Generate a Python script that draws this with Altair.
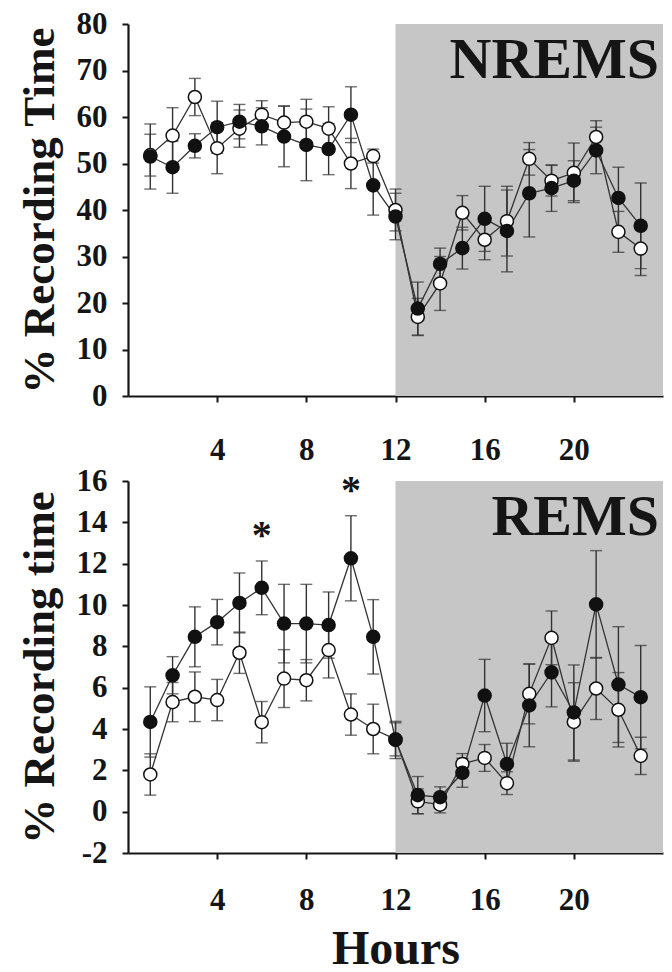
import altair as alt
import pandas as pd

hours = list(range(1, 24))

nrem_filled = [51.5, 49.2, 53.8, 57.8, 59.0, 58.0, 55.8, 54.0, 53.1, 60.5, 45.3, 38.6,
               18.8, 28.4, 31.8, 38.1, 35.5, 43.6, 44.7, 46.3, 52.8, 42.6, 36.6]
nrem_filled_err = [7.0, 5.6, 2.6, 5.6, 3.7, 4.0, 6.5, 7.7, 5.5, 6.0, 6.4, 5.0,
                   5.7, 3.4, 4.5, 7.0, 8.8, 9.4, 5.0, 4.3, 5.0, 6.6, 9.2]
nrem_open = [51.8, 56.0, 64.3, 53.3, 57.5, 60.5, 58.8, 59.0, 57.5, 50.0, 51.6, 40.0,
             17.0, 24.2, 39.4, 33.6, 37.6, 51.0, 46.3, 48.0, 55.7, 35.3, 31.7]
nrem_open_err = [4.5, 6.0, 4.0, 5.5, 4.0, 3.0, 3.6, 4.8, 4.7, 5.4, 1.5, 4.5,
                 4.0, 5.8, 3.7, 4.3, 7.5, 3.5, 3.3, 6.4, 3.5, 4.4, 5.8]

rem_filled = [4.34, 6.6, 8.46, 9.17, 10.1, 10.83, 9.1, 9.1, 9.03, 12.26, 8.46, 3.47,
              0.8, 0.7, 1.88, 5.62, 2.31, 5.14, 6.74, 4.8, 10.03, 6.15, 5.54]
rem_filled_err = [1.7, 0.9, 1.45, 1.1, 1.45, 1.3, 1.9, 1.9, 1.6, 2.06, 1.8, 0.9,
                  0.9, 0.5, 0.7, 1.75, 1.0, 2.0, 1.67, 2.3, 2.6, 2.8, 2.5]
rem_open = [1.8, 5.3, 5.56, 5.4, 7.69, 4.33, 6.44, 6.36, 7.82, 4.7, 4.0, 3.5,
            0.5, 0.34, 2.31, 2.6, 1.38, 5.7, 8.41, 4.34, 5.96, 4.93, 2.7]
rem_open_err = [1.0, 0.95, 1.2, 1.0, 1.0, 1.0, 1.4, 1.0, 1.35, 1.0, 1.2, 0.8,
                0.6, 0.4, 0.5, 0.65, 0.55, 1.45, 1.3, 1.9, 1.5, 1.8, 0.9]

dark_start = [12]
dark_end = [24]

ast_hours = [6, 10]
ast_values = [13.7, 15.85]

FONT = "'Liberation Serif', 'Times New Roman', Times, serif"
INK = "#151515"


def long_df(filled, filled_err, opn, opn_err):
    a = pd.DataFrame({"hour": hours, "value": opn, "err": opn_err, "group": "open"})
    b = pd.DataFrame({"hour": hours, "value": filled, "err": filled_err, "group": "filled"})
    return pd.concat([a, b], ignore_index=True)


def panel(df, ymin, ymax, ystep, ytitle, label, xlabpad, show_xtitle, ast=None):
    xscale = alt.Scale(domain=[0, 24], nice=False)
    yscale = alt.Scale(domain=[ymin, ymax], nice=False)
    xaxis_kw = dict(values=[4, 8, 12, 16, 20], tickSize=6, labelPadding=xlabpad, grid=False)
    if show_xtitle:
        xaxis_kw.update(title="Hours", titlePadding=10, titleFontSize=48)
    else:
        xaxis_kw.update(title=None)
    x = alt.X("hour:Q", scale=xscale, axis=alt.Axis(**xaxis_kw))
    yaxis = alt.Axis(values=list(range(ymin, ymax + 1, ystep)), title=ytitle, tickSize=6,
                     labelPadding=15, titlePadding=14, grid=False,
                     labelExpr="'' + datum.value")

    band = alt.Chart(pd.DataFrame({"start": dark_start, "end": dark_end})).mark_rect(
        color="#c6c6c6").encode(
        x=alt.X("start:Q", scale=xscale, axis=alt.Axis(**xaxis_kw)),
        x2="end:Q",
        y=alt.Y(datum=ymin, scale=yscale, axis=yaxis),
        y2=alt.Y2(datum=ymax),
    )

    base = alt.Chart(df).transform_calculate(
        lo="datum.value - datum.err", hi="datum.value + datum.err")

    rules = base.mark_rule(color="#333333", strokeWidth=1.4).encode(
        x=x, y=alt.Y("lo:Q", scale=yscale, axis=yaxis), y2="hi:Q")

    caps = base.transform_fold(["lo", "hi"], as_=["end", "ev"]).mark_tick(
        orient="horizontal", size=12, thickness=1.4, color="#333333").encode(
        x=x, y=alt.Y("ev:Q", scale=yscale, axis=yaxis), detail="group:N")

    lines = base.mark_line(color="#333333", strokeWidth=1.3).encode(
        x=x, y=alt.Y("value:Q", scale=yscale, axis=yaxis), detail="group:N")

    points = base.mark_point(shape="circle", size=170, filled=False, opacity=1,
                             strokeWidth=1.5, stroke="#111111").encode(
        x=x, y=alt.Y("value:Q", scale=yscale, axis=yaxis),
        fill=alt.Fill("group:N", scale=alt.Scale(domain=["open", "filled"],
                                                 range=["#ffffff", "#111111"]),
                      legend=None),
    )

    txt = alt.Chart(pd.DataFrame({"label": [label]})).mark_text(
        align="right", baseline="alphabetic", font=FONT, fontWeight="bold",
        fontSize=58, color=INK, dx=-4).encode(
        x=alt.X(datum=24, scale=xscale), y=alt.value(54), text="label:N")

    layers = [band, rules, caps, lines, points, txt]
    if ast is not None:
        star = alt.Chart(pd.DataFrame({"hour": ast_hours, "value": ast_values,
                                       "s": ["*", "*"]})).mark_text(
            font=FONT, fontWeight="bold", fontSize=40, color=INK,
            baseline="alphabetic", dy=19).encode(
            x=x, y=alt.Y("value:Q", scale=yscale, axis=yaxis), text="s:N")
        layers.append(star)
    return alt.layer(*layers).properties(width=535, height=372)


top = panel(long_df(nrem_filled, nrem_filled_err, nrem_open, nrem_open_err),
            0, 80, 10, "% Recording Time", "NREMS", 33, False)
bottom = panel(long_df(rem_filled, rem_filled_err, rem_open, rem_open_err),
               -2, 16, 2, "% Recording time", "REMS", 26, True, ast=True)

chart = alt.vconcat(top, bottom, spacing=85, bounds="flush").properties(
    padding={"left": 17, "top": 8, "right": 4, "bottom": 2},
    background="white",
).configure_axis(
    domainColor=INK, domainWidth=2.2, tickColor=INK, tickWidth=2,
    labelFont=FONT, labelFontWeight="bold", labelFontSize=31, labelColor=INK,
    titleFont=FONT, titleFontWeight="bold", titleFontSize=45, titleColor=INK,
).configure_view(stroke=None)

chart.save("out.html", embed_options={"renderer": "svg", "actions": False})
